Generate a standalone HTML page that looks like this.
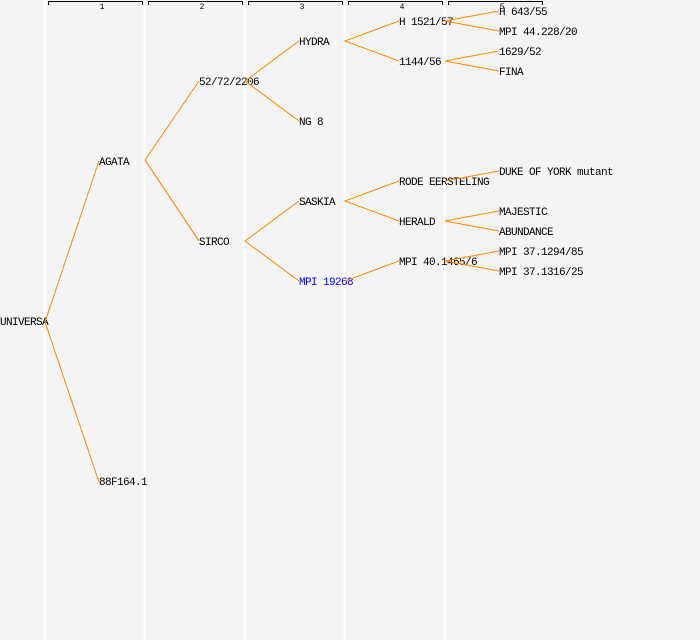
<!DOCTYPE html>
<html><head><style>html,body{margin:0;padding:0;background:#f4f4f4}svg{display:block}</style></head>
<body>
<svg width="700" height="640" xmlns="http://www.w3.org/2000/svg" font-family="Liberation Mono, monospace" font-size="11">
<rect width="700" height="640" fill="#f4f4f4"/>
<g stroke="#ffffff" stroke-width="2">
<line x1="44.5" y1="0" x2="44.5" y2="640"/><line x1="144.5" y1="0" x2="144.5" y2="640"/><line x1="244.5" y1="0" x2="244.5" y2="640"/><line x1="344.5" y1="0" x2="344.5" y2="640"/><line x1="444.5" y1="0" x2="444.5" y2="640"/>
</g>
<g stroke="#000" fill="none" stroke-width="1">
<path d="M48.5 5V1.5H142.5V5"/><path d="M148.5 5V1.5H242.5V5"/><path d="M248.5 5V1.5H342.5V5"/><path d="M348.5 5V1.5H442.5V5"/><path d="M448.5 5V1.5H542.5V5"/>
</g>
<g font-size="8" text-anchor="middle" fill="#000">
<text x="102" y="9">1</text><text x="202" y="9">2</text><text x="302" y="9">3</text><text x="402" y="9">4</text><text x="502" y="9">5</text>
</g>
<g fill="#000" dominant-baseline="middle" letter-spacing="-0.6">
<text x="0" y="322">UNIVERSA</text>
<text x="99" y="162">AGATA</text>
<text x="99" y="482">88F164.1</text>
<text x="199" y="82">52/72/2206</text>
<text x="199" y="242">SIRCO</text>
<text x="299" y="42">HYDRA</text>
<text x="299" y="122">NG 8</text>
<text x="299" y="202">SASKIA</text>
<text x="299" y="282" fill="#0000ff">MPI 19268</text>
<text x="399" y="22">H 1521/57</text>
<text x="399" y="62">1144/56</text>
<text x="399" y="182">RODE EERSTELING</text>
<text x="399" y="222">HERALD</text>
<text x="399" y="262">MPI 40.1465/6</text>
<text x="499" y="12">H 643/55</text>
<text x="499" y="32">MPI 44.228/20</text>
<text x="499" y="52">1629/52</text>
<text x="499" y="72">FINA</text>
<text x="499" y="172">DUKE OF YORK mutant</text>
<text x="499" y="212">MAJESTIC</text>
<text x="499" y="232">ABUNDANCE</text>
<text x="499" y="252">MPI 37.1294/85</text>
<text x="499" y="272">MPI 37.1316/25</text>
</g>
<g stroke="#ff8c00" stroke-width="1" fill="none" shape-rendering="crispEdges">
<path d="M99 161L45 322L99 482"/>
<path d="M199 81L145 160L199 241"/>
<path d="M299 41L245 81L299 121"/>
<path d="M299 201L245 241L299 281"/>
<path d="M399 21L345 41L399 61"/>
<path d="M399 181L345 201L399 221"/>
<path d="M399 261L345 281"/>
<path d="M499 11L445 21L499 31"/>
<path d="M499 51L445 61L499 71"/>
<path d="M499 171L445 181"/>
<path d="M499 211L445 221L499 231"/>
<path d="M499 251L445 261L499 271"/>
</g>
</svg>
</body></html>
